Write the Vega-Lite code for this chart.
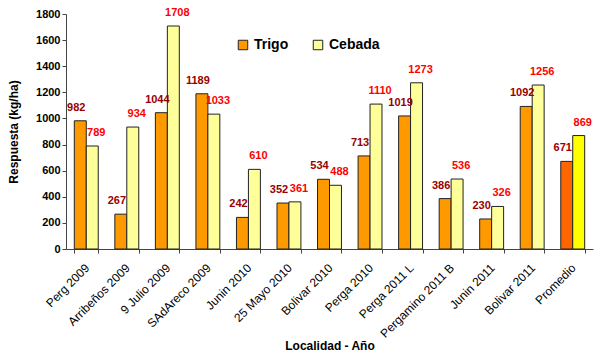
{
  "$schema": "https://vega.github.io/schema/vega-lite/v6.json",
  "width": 527,
  "height": 235,
  "autosize": {"type": "none"},
  "padding": {"left": 66, "top": 14, "right": 7, "bottom": 109},
  "background": "white",
  "config": {"view": {"stroke": null}, "font": "Liberation Sans"},
  "data": {
    "values": [
      {"loc": "Perg 2009", "serie": "Trigo", "v": 982},
      {"loc": "Perg 2009", "serie": "Cebada", "v": 789},
      {"loc": "Arribeños 2009", "serie": "Trigo", "v": 267},
      {"loc": "Arribeños 2009", "serie": "Cebada", "v": 934},
      {"loc": "9 Julio 2009", "serie": "Trigo", "v": 1044},
      {"loc": "9 Julio 2009", "serie": "Cebada", "v": 1708},
      {"loc": "SAdAreco 2009", "serie": "Trigo", "v": 1189},
      {"loc": "SAdAreco 2009", "serie": "Cebada", "v": 1033},
      {"loc": "Junin 2010", "serie": "Trigo", "v": 242},
      {"loc": "Junin 2010", "serie": "Cebada", "v": 610},
      {"loc": "25 Mayo 2010", "serie": "Trigo", "v": 352},
      {"loc": "25 Mayo 2010", "serie": "Cebada", "v": 361},
      {"loc": "Bolivar 2010", "serie": "Trigo", "v": 534},
      {"loc": "Bolivar 2010", "serie": "Cebada", "v": 488},
      {"loc": "Perga 2010", "serie": "Trigo", "v": 713},
      {"loc": "Perga 2010", "serie": "Cebada", "v": 1110},
      {"loc": "Perga 2011 L", "serie": "Trigo", "v": 1019},
      {"loc": "Perga 2011 L", "serie": "Cebada", "v": 1273},
      {"loc": "Pergamino 2011 B", "serie": "Trigo", "v": 386},
      {"loc": "Pergamino 2011 B", "serie": "Cebada", "v": 536},
      {"loc": "Junin 2011", "serie": "Trigo", "v": 230},
      {"loc": "Junin 2011", "serie": "Cebada", "v": 326},
      {"loc": "Bolivar 2011", "serie": "Trigo", "v": 1092},
      {"loc": "Bolivar 2011", "serie": "Cebada", "v": 1256},
      {"loc": "Promedio", "serie": "Trigo", "v": 671},
      {"loc": "Promedio", "serie": "Cebada", "v": 869}
    ]
  },
  "encoding": {
    "x": {
      "field": "loc",
      "type": "nominal",
      "sort": null,
      "scale": {"paddingInner": 0.41, "paddingOuter": 0.205},
      "axis": {
        "title": "Localidad - Año",
        "titleFont": "Liberation Sans",
        "titleFontSize": 12,
        "titleFontWeight": "bold",
        "titleColor": "black",
        "titleY": 96,
        "titleBaseline": "middle",
        "labelAngle": -45,
        "labelFont": "Liberation Sans",
        "labelFontSize": 12,
        "labelColor": "black",
        "tickBand": "extent",
        "domainColor": "#444444",
        "tickColor": "#444444",
        "tickSize": 4,
        "labelPadding": 9,
        "labelOffset": -3
      }
    },
    "xOffset": {"field": "serie", "type": "nominal", "sort": ["Trigo", "Cebada"], "scale": {"paddingInner": 0, "paddingOuter": 0}},
    "y": {
      "field": "v",
      "type": "quantitative",
      "scale": {"domain": [0, 1800], "nice": false},
      "axis": {
        "title": "Respuesta (kg/ha)",
        "titleFont": "Liberation Sans",
        "titleFontSize": 12,
        "titleFontWeight": "bold",
        "titleColor": "black",
        "titlePadding": 15,
        "values": [0, 200, 400, 600, 800, 1000, 1200, 1400, 1600, 1800],
        "format": "d",
        "labelFont": "Liberation Sans",
        "labelFontSize": 11,
        "labelFontWeight": "bold",
        "labelColor": "black",
        "grid": false,
        "domainColor": "#444444",
        "tickColor": "#444444",
        "tickSize": 4
      }
    }
  },
  "layer": [
    {
      "mark": {"type": "bar", "stroke": "#222222", "strokeWidth": 1},
      "encoding": {
        "color": {
          "condition": [
            {"test": "datum.loc === 'Promedio' && datum.serie === 'Trigo'", "value": "#FF6600"},
            {"test": "datum.loc === 'Promedio' && datum.serie === 'Cebada'", "value": "#FFFF00"}
          ],
          "field": "serie",
          "type": "nominal",
          "sort": ["Trigo", "Cebada"],
          "scale": {"domain": ["Trigo", "Cebada"], "range": ["#FF9900", "#FFFF99"]},
          "legend": {
            "title": null,
            "orient": "none",
            "legendX": 170,
            "legendY": 24,
            "direction": "horizontal",
            "columns": 2,
            "columnPadding": 22,
            "symbolType": "square",
            "symbolSize": 90,
            "symbolStrokeColor": "#222222",
            "symbolStrokeWidth": 1,
            "labelFont": "Liberation Sans",
            "labelFontSize": 14,
            "labelFontWeight": "bold",
            "labelColor": "black",
            "labelOffset": 4
          }
        }
      }
    },
    {
      "mark": {"type": "text", "dy": -13, "dx": -4, "fontSize": 11, "fontWeight": "bold", "font": "Liberation Sans", "color": "#990000"},
      "transform": [{"filter": "datum.serie === 'Trigo'"}],
      "encoding": {
        "text": {"field": "v", "type": "quantitative"}
      }
    },
    {
      "mark": {"type": "text", "dy": -13, "dx": 4, "fontSize": 11, "fontWeight": "bold", "font": "Liberation Sans", "color": "#FF0000"},
      "transform": [{"filter": "datum.serie === 'Cebada'"}],
      "encoding": {
        "text": {"field": "v", "type": "quantitative"}
      }
    }
  ]
}
